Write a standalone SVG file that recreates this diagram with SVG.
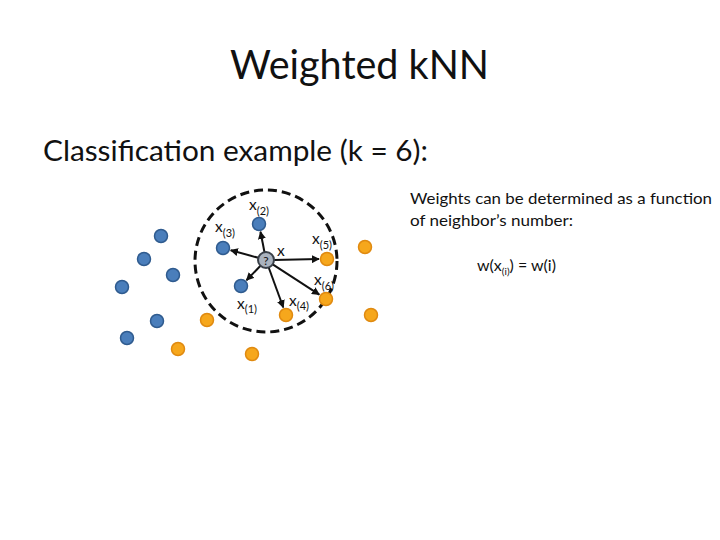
<svg xmlns="http://www.w3.org/2000/svg" width="720" height="540" viewBox="0 0 720 540">
<style>
text{font-family:Lato,"Open Sans","Liberation Sans",sans-serif;fill:#111}
.blue{fill:#4a7ebb;stroke:#2f5b8f;stroke-width:1.5}
.orange{fill:#f6a71c;stroke:#e08a10;stroke-width:1.5}
.lbl{font-size:15.5px}
.sub{font-size:11px}
.arr{stroke:#111;stroke-width:2;fill:none;marker-end:url(#ah)}
</style>
<defs>
<marker id="ah" viewBox="0 0 10 10" refX="9" refY="5" markerWidth="8" markerHeight="8" markerUnits="userSpaceOnUse" orient="auto">
<path d="M0,0 L10,5 L0,10 z" fill="#111"/>
</marker>
</defs>
<rect width="720" height="540" fill="#fff"/>
<text id="title" x="230" y="79" font-size="40" textLength="259" lengthAdjust="spacingAndGlyphs">Weighted kNN</text>
<text id="subtitle" x="43" y="161" font-size="29" textLength="385" lengthAdjust="spacingAndGlyphs">Classification example (k = 6):</text>
<g id="note">
<text x="410" y="204" font-size="16" textLength="302" lengthAdjust="spacingAndGlyphs">Weights can be determined as  a function</text>
<text x="410" y="226" font-size="16" textLength="163" lengthAdjust="spacingAndGlyphs">of neighbor’s number:</text>
<text x="477" y="271" font-size="16">w(x<tspan font-size="10" dy="4">(i)</tspan><tspan dy="-4">) = w(i)</tspan></text>
</g>
<g id="neighborhood">
<circle cx="266" cy="261" r="71" fill="none" stroke="#111" stroke-width="3" stroke-dasharray="9,5"/>
</g>
<g id="connectors">
<line class="arr" x1="264.5" y1="252.2" x2="260.5" y2="231.8"/>
<line class="arr" x1="258.3" y1="257.8" x2="230.7" y2="250.2"/>
<line class="arr" x1="260.5" y1="265.8" x2="246.5" y2="280.2"/>
<line class="arr" x1="268.7" y1="267.5" x2="283.3" y2="307.5"/>
<line class="arr" x1="274" y1="259.9" x2="319" y2="259.1"/>
<line class="arr" x1="272.7" y1="264.4" x2="319.3" y2="294.6"/>
</g>
<g id="blue-points">
<circle id="b1" class="blue" cx="161" cy="236" r="6.5"/>
<circle id="b2" class="blue" cx="144" cy="259" r="6.5"/>
<circle id="b3" class="blue" cx="173" cy="275" r="6.5"/>
<circle id="b4" class="blue" cx="122" cy="287" r="6.5"/>
<circle id="b5" class="blue" cx="157" cy="321" r="6.5"/>
<circle id="b6" class="blue" cx="127" cy="338" r="6.5"/>
<circle id="x2" class="blue" cx="259" cy="224" r="6.5"/>
<circle id="x3" class="blue" cx="223" cy="248" r="6.5"/>
<circle id="x1" class="blue" cx="241" cy="286" r="6.5"/>
</g>
<g id="orange-points">
<circle id="x5" class="orange" cx="327" cy="259" r="6.5"/>
<circle id="x6" class="orange" cx="326" cy="299" r="6.5"/>
<circle id="x4" class="orange" cx="286" cy="315" r="6.5"/>
<circle id="o1" class="orange" cx="365" cy="247" r="6.5"/>
<circle id="o2" class="orange" cx="207" cy="320" r="6.5"/>
<circle id="o3" class="orange" cx="178" cy="349" r="6.5"/>
<circle id="o4" class="orange" cx="252" cy="354" r="6.5"/>
<circle id="o5" class="orange" cx="371" cy="315" r="6.5"/>
</g>
<g id="query">
<circle cx="266" cy="260" r="8" fill="#aab3bf" stroke="#3a4048" stroke-width="2"/>
<text x="266" y="265" font-size="12" text-anchor="middle" fill="#333">?</text>
</g>
<g id="labels">
<text class="lbl" x="249" y="210">x<tspan class="sub" dy="5">(2)</tspan></text>
<text class="lbl" x="215" y="232">x<tspan class="sub" dy="5">(3)</tspan></text>
<text class="lbl" x="277" y="256">x</text>
<text class="lbl" x="312" y="244">x<tspan class="sub" dy="5">(5)</tspan></text>
<text class="lbl" x="314" y="285">x<tspan class="sub" dy="5">(6)</tspan></text>
<text class="lbl" x="237" y="309">x<tspan class="sub" dy="4">(1)</tspan></text>
<text class="lbl" x="289" y="306">x<tspan class="sub" dy="4">(4)</tspan></text>
</g>
</svg>
